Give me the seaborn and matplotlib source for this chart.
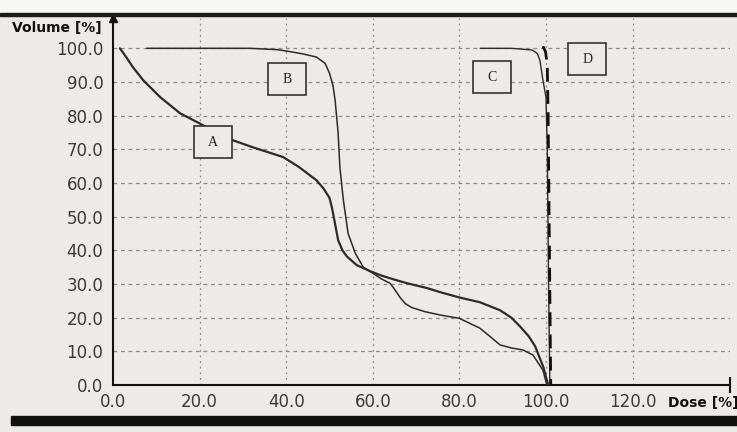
import matplotlib
matplotlib.use("Agg")
import matplotlib.pyplot as plt
import seaborn as sns
import pandas as pd
from matplotlib.patches import Rectangle

# dose-volume curves (dose %, volume %)
a_dose = [1.6, 3, 4.6, 7, 10.9, 15.5, 20, 23, 27, 32.3, 39.3, 43, 47, 48.6, 50, 50.6, 51.2, 52, 53,
          54, 56.3, 59.4, 62, 65, 68, 72.5, 75.5, 80, 84.7, 89.4, 92, 94, 96, 97.5, 99.4, 100.5]
a_vol = [100, 97.5, 94.4, 90.5, 85.5, 80.7, 77.7, 75.5, 73, 70.6, 67.7, 64.7, 60.8, 58.4, 55.6, 52.5, 48.5, 43, 40,
         38.2, 35.6, 33.8, 32.5, 31.3, 30.2, 28.8, 27.6, 26, 24.6, 22.2, 20, 17.4, 14.5, 11.5, 5.3, 0]

b_dose = [7.8, 20, 31.6, 38, 41, 44, 47, 49, 50, 50.8, 51.3, 52, 52.4, 53.2, 54.3, 56, 57.8,
          60, 62, 64, 65, 66.3, 67.5, 69, 72, 75.5, 80, 84.7, 87, 89.4, 92, 94.7, 97, 99.3, 100.2]
b_vol = [100, 100, 100, 99.6, 99, 98.3, 97.4, 95.5, 92.6, 89, 84.6, 74.8, 64.7, 55, 45, 39, 35,
         33.2, 31.5, 30.2, 28.5, 26, 24.2, 23, 21.8, 20.8, 19.8, 16.9, 14.5, 11.9, 11, 10.4, 8.9, 4.4, 0]

c_dose = [84.8, 92, 96.8, 98, 98.6, 99.3, 100.0, 100.3, 100.6, 100.9]
c_vol = [100, 100, 99.5, 98.5, 96.4, 90.5, 85.5, 70, 30, 0]

d_dose = [99.3, 99.9, 100.3, 100.5, 100.8, 101.1]
d_vol = [100.6, 99, 95, 80, 40, 0]

# curve labels
label_names = ["A", "B", "C", "D"]
label_x = [23.1, 40.2, 87.5, 109.5]
label_y = [72.1, 90.8, 91.4, 96.7]

x_ticks = [0, 20, 40, 60, 80, 100, 120]
y_ticks = [0, 10, 20, 30, 40, 50, 60, 70, 80, 90, 100]

paper = "#ecebe7"
ink = "#2b2b2b"

sns.set_style("white")
plt.rcParams["font.family"] = ["DejaVu Sans"]

fig = plt.figure(figsize=(7.37, 4.32), dpi=100)
fig.patch.set_facecolor(paper)
# photo edges: white strip on top, black rule, black bar at bottom
fig.add_artist(Rectangle((0, 0.966), 1, 0.034, transform=fig.transFigure, color="#f7f7f5", zorder=0))
fig.add_artist(Rectangle((0, 0.962), 1, 0.008, transform=fig.transFigure, color="#1a1a1a", zorder=1))
fig.add_artist(Rectangle((0.015, 0.016), 0.985, 0.020, transform=fig.transFigure, color="#111111", zorder=1))

ax = fig.add_axes([0.1533, 0.1088, 0.8372, 0.8495])
ax.set_facecolor(paper)

curves = [
    (a_dose, a_vol, dict(lw=1.6, color=ink)),
    (b_dose, b_vol, dict(lw=1.1, color=ink)),
    (c_dose, c_vol, dict(lw=1.0, color=ink)),
]
for xs, ys, kw in curves:
    df = pd.DataFrame({"dose": xs, "vol": ys})
    sns.lineplot(data=df, x="dose", y="vol", sort=False, estimator=None, ax=ax, zorder=3, **kw)

df_d = pd.DataFrame({"dose": d_dose, "vol": d_vol})
sns.lineplot(data=df_d, x="dose", y="vol", sort=False, estimator=None, ax=ax,
             color="#111111", lw=2.0, dashes=False, zorder=4)
ax.lines[-1].set_dashes([5, 3])

# boxed labels
for name, lx, ly in zip(label_names, label_x, label_y):
    ax.add_patch(Rectangle((lx - 4.4, ly - 4.75), 8.8, 9.5, facecolor=paper,
                           edgecolor="#333333", lw=1.2, zorder=5))
    ax.text(lx, ly, name, ha="center", va="center", fontsize=10,
            family="Liberation Serif", color="#222222", zorder=6)

ax.set_xlim(0, 142.5)
ax.set_ylim(0, 109)
ax.set_xticks(x_ticks)
ax.set_xticklabels([f"{v:.1f}" for v in x_ticks])
ax.set_yticks(y_ticks)
ax.set_yticklabels([f"{v:.1f}" for v in y_ticks])
ax.tick_params(axis="y", direction="out", length=6, width=1, pad=1, labelsize=12, colors="#3a3a3a")
ax.tick_params(axis="x", direction="out", length=0, pad=6, labelsize=12, colors="#3a3a3a")
for t in ax.get_xticklabels():
    t.set_x(t.get_position()[0])

for x in x_ticks[1:]:
    ax.axvline(x, color="#8a8a8a", lw=0.9, ls=(0, (1.5, 3)), zorder=1)
for y in y_ticks[1:]:
    ax.axhline(y, color="#8a8a8a", lw=0.9, ls=(0, (3, 3)), zorder=1)

for s in ["top", "right"]:
    ax.spines[s].set_visible(False)
for s in ["left", "bottom"]:
    ax.spines[s].set_color("#111111")
    ax.spines[s].set_linewidth(1.5)

# axis end marks
ax.plot([0], [1], marker="^", color="#111111", markersize=6, transform=ax.transAxes, clip_on=False)
ax.plot([1], [0], marker="|", color="#111111", markersize=12, mew=1.5, transform=ax.transAxes, clip_on=False)

ax.set_xlabel("")
ax.set_ylabel("")
fig.text(0.016, 0.935, "Volume [%]", fontsize=10, fontweight="bold", color="#111111", va="center")
fig.text(0.906, 0.067, "Dose [%]", fontsize=10, fontweight="bold", color="#111111", va="center")

fig.savefig("out.png", dpi=100, facecolor=fig.get_facecolor())
